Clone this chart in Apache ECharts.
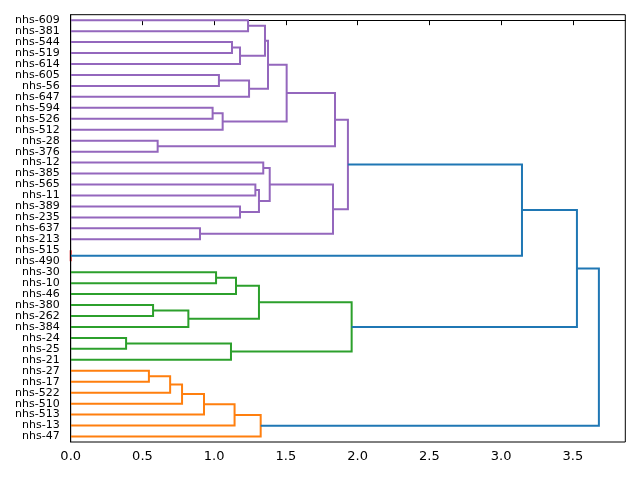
<!DOCTYPE html>
<html>
<head>
<meta charset="utf-8">
<script src="https://cdn.jsdelivr.net/npm/echarts@6/dist/echarts.min.js"></script>
<style>html,body{margin:0;padding:0;background:#fff}#c{width:640px;height:480px}</style>
</head>
<body>
<div id="c"></div>
<script>
// Leaf order, top to bottom
const leaves = ['nhs-609','nhs-381','nhs-544','nhs-519','nhs-614','nhs-605','nhs-56','nhs-647',
  'nhs-594','nhs-526','nhs-512','nhs-28','nhs-376','nhs-12','nhs-385','nhs-565','nhs-11',
  'nhs-389','nhs-235','nhs-637','nhs-213','nhs-515','nhs-490','nhs-30','nhs-10','nhs-46',
  'nhs-380','nhs-262','nhs-384','nhs-24','nhs-25','nhs-21','nhs-27','nhs-17','nhs-522',
  'nhs-510','nhs-513','nhs-13','nhs-47'];
// Merges: child A, child B (leaf name or merge index "m#"), merge height
const mergeA = ['nhs-609','nhs-544','m1','m0','nhs-605','m4','m3','nhs-594','m7','m6','nhs-28','m9',
  'nhs-12','nhs-565','nhs-389','m13','m12','nhs-637','m16','m11','nhs-515','m19',
  'nhs-30','m22','nhs-380','m24','m23','nhs-24','m27','m26','m21',
  'nhs-27','m31','m32','m33','m34','m35','m30'];
const mergeB = ['nhs-381','nhs-519','nhs-614','m2','nhs-56','nhs-647','m5','nhs-526','nhs-512','m8','nhs-376','m10',
  'nhs-385','nhs-11','nhs-235','m14','m15','nhs-213','m17','m18','nhs-490','m20',
  'nhs-10','nhs-46','nhs-262','nhs-384','m25','nhs-25','nhs-21','m28','m29',
  'nhs-17','nhs-522','nhs-510','nhs-513','nhs-13','nhs-47','m36'];
const mergeHeight = [1.236,1.124,1.180,1.354,1.033,1.243,1.375,0.989,1.059,1.505,0.606,1.842,
  1.342,1.287,1.180,1.312,1.387,0.901,1.828,1.932,0.0,3.145,
  1.013,1.152,0.574,0.820,1.312,0.386,1.117,1.958,3.528,
  0.545,0.693,0.776,0.929,1.142,1.324,3.681];
// Cluster colour key per merge
const mergeCluster = ['C4','C4','C4','C4','C4','C4','C4','C4','C4','C4','C4','C4',
  'C4','C4','C4','C4','C4','C4','C4','C4','C3','C0',
  'C2','C2','C2','C2','C2','C2','C2','C2','C0',
  'C1','C1','C1','C1','C1','C1','C0'];
const xTicks = [0,0.5,1.0,1.5,2.0,2.5,3.0,3.5];

const palette = {C0:'#1f77b4',C1:'#ff7f0e',C2:'#2ca02c',C3:'#d62728',C4:'#9467bd'};

const nodePos = {}, nodeH = {};
leaves.forEach((l,i)=>{ nodePos[l]=i; nodeH[l]=0; });
const linkData = [];
for (let k=0;k<mergeA.length;k++){
  const a=mergeA[k], b=mergeB[k], h=mergeHeight[k];
  const ya=nodePos[a], yb=nodePos[b];
  linkData.push({value:[nodeH[a],ya,h,yb,nodeH[b]], itemStyle:{color:palette[mergeCluster[k]]}});
  nodePos['m'+k]=(ya+yb)/2; nodeH['m'+k]=h;
}
const maxH = Math.max(...mergeHeight);

const chart = echarts.init(document.getElementById('c'));
const font = 'DejaVu Sans';
chart.setOption({
  animation:false,
  backgroundColor:'#fff',
  grid:{left:70.7,right:14.7,top:14.7,bottom:38,show:true,borderColor:'#000',borderWidth:1,containLabel:false},
  xAxis:{type:'value',min:0,max:maxH*1.05,splitLine:{show:false},
    axisLine:{show:true,lineStyle:{color:'#000',width:1}},
    axisTick:{show:true,length:5,lineStyle:{color:'#000',width:1},customValues:xTicks},
    axisLabel:{color:'#000',fontSize:13,fontFamily:font,margin:8,customValues:xTicks,
      formatter:v=>Number(v).toFixed(1)}},
  yAxis:[
    {type:'category',data:leaves,inverse:true,z:10,
     axisLine:{show:true,lineStyle:{color:'#000',width:1}},
     axisTick:{show:false},splitLine:{show:false},
     axisLabel:{color:'#000',fontSize:11,fontFamily:font,margin:11,interval:0}},
    {type:'value',min:-0.5,max:leaves.length-0.5,inverse:true,show:false,splitLine:{show:false}}
  ],
  series:[{
    type:'custom',xAxisIndex:0,yAxisIndex:1,clip:false,
    data:linkData,
    encode:{x:[0,2,4],y:[1,3]},
    renderItem:function(params,api){
      const p1=api.coord([api.value(0),api.value(1)]);
      const p2=api.coord([api.value(2),api.value(1)]);
      const p3=api.coord([api.value(2),api.value(3)]);
      const p4=api.coord([api.value(4),api.value(3)]);
      return {type:'polyline',shape:{points:[p1,p2,p3,p4]},
        style:{stroke:linkData[params.dataIndex].itemStyle.color,fill:null,lineWidth:2}};
    }
  }]
});
</script>
</body>
</html>
